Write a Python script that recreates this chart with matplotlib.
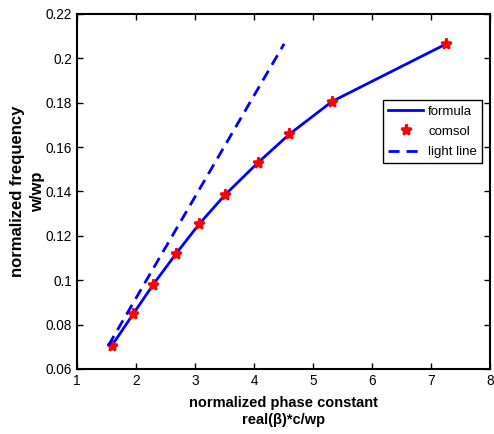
import numpy as np
import matplotlib
matplotlib.use("Agg")
import matplotlib.pyplot as plt

plt.rcParams['font.family'] = ['Liberation Sans', 'DejaVu Sans']

# data
beta = [1.59, 1.95, 2.29, 2.68, 3.07, 3.51, 4.06, 4.60, 5.32, 7.26]
freq = [0.0705, 0.0847, 0.098, 0.112, 0.1253, 0.1385, 0.1528, 0.1658, 0.1805, 0.2065]
light_x = [1.53, 4.51]
light_y = [0.0705, 0.2065]

xticks = [1, 2, 3, 4, 5, 6, 7, 8]
yticks = [0.06, 0.08, 0.1, 0.12, 0.14, 0.16, 0.18, 0.2, 0.22]
ylabels = ['0.06', '0.08', '0.1', '0.12', '0.14', '0.16', '0.18', '0.2', '0.22']

fig = plt.figure(figsize=(4.94, 4.34), dpi=100)
ax = fig.add_axes([0.156, 0.150, 0.836, 0.818])

ax.plot(beta, freq, '-', color='#0000ff', lw=2, label='formula')
ax.plot(beta, freq, '*', color='#ff0000', ms=8, mew=1.8, ls='none', label='comsol')
ax.plot(light_x, light_y, '--', color='#0000ff', lw=2, dashes=(4, 2.5), label='light line')

ax.set_xlim(1, 8)
ax.set_ylim(0.06, 0.22)
ax.set_xticks(xticks)
ax.set_yticks(yticks)
ax.set_yticklabels(ylabels)
ax.tick_params(direction='in', top=True, right=True, labelsize=9.8, length=4, width=1)
for s in ax.spines.values():
    s.set_linewidth(1.5)

ax.set_xlabel('normalized phase constant\nreal(\u03b2)*c/wp', fontsize=10.5, fontweight='bold',
              labelpad=6, linespacing=1.3)
ax.set_ylabel('normalized frequency\nw/wp', fontsize=12, fontweight='bold',
              labelpad=0.5, linespacing=1.45)

leg = ax.legend(loc='upper right', bbox_to_anchor=(0.997, 0.775), fontsize=9.5,
                fancybox=False, edgecolor='black', framealpha=1, handlelength=2.6,
                borderpad=0.4, labelspacing=0.6, handletextpad=0.4)
leg.get_frame().set_linewidth(1)

plt.savefig('out.png', dpi=100)
